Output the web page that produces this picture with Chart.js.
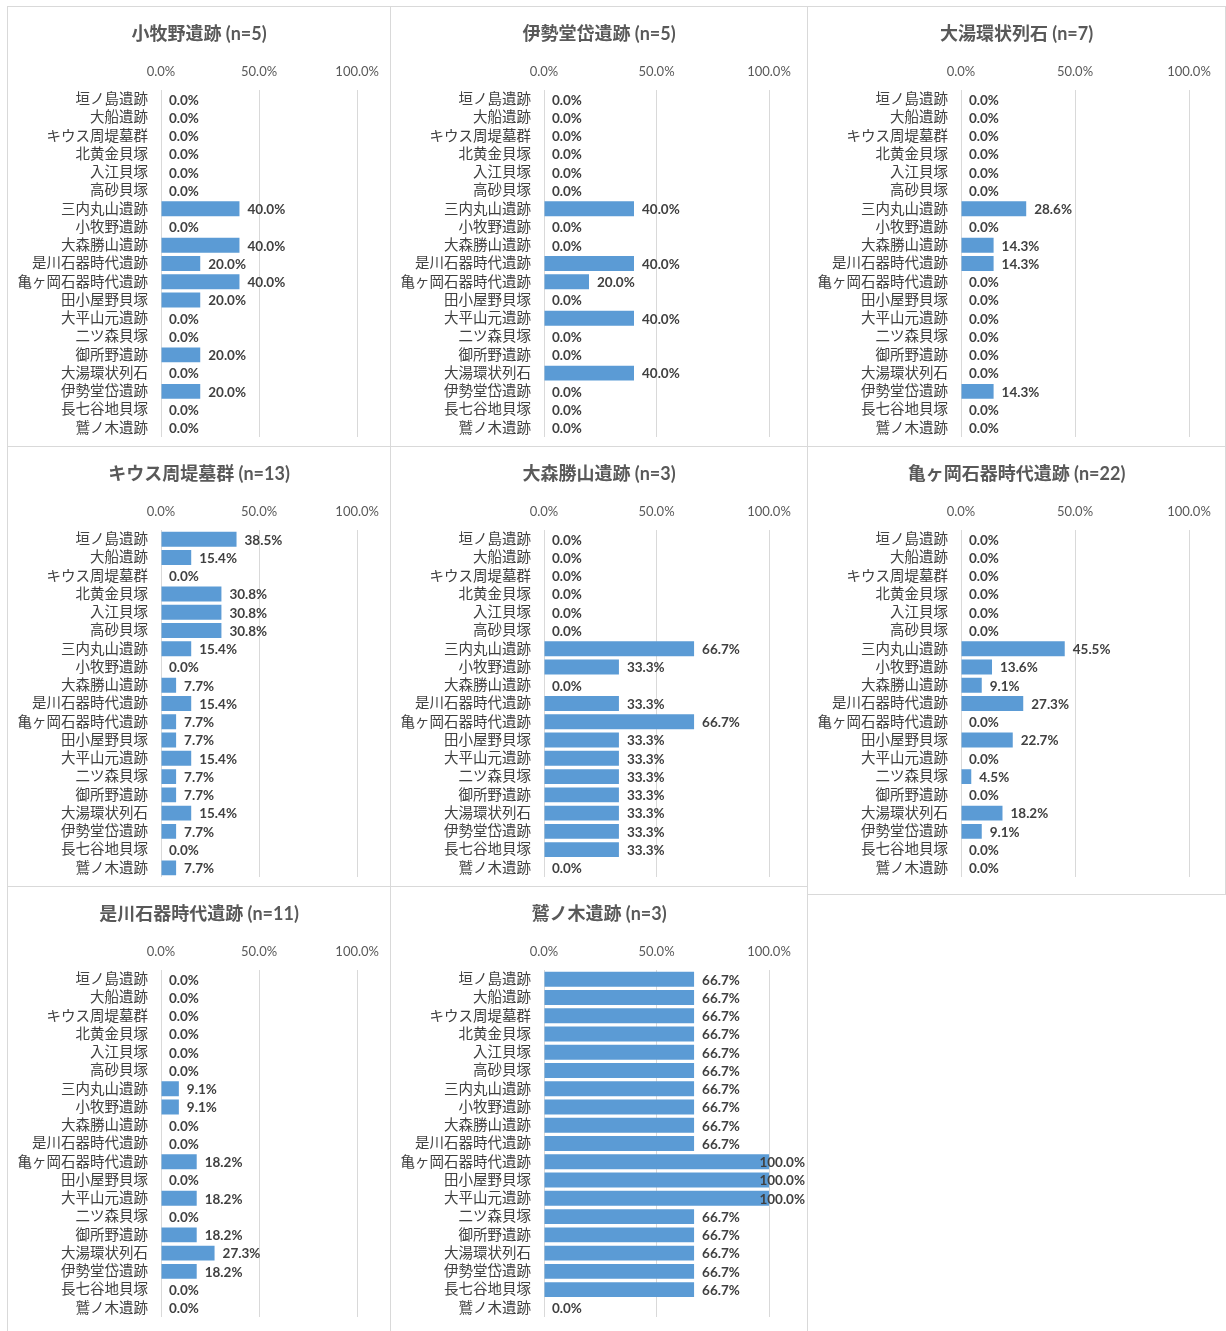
<!DOCTYPE html>
<html>
<head>
<meta charset="utf-8">
<script src="https://cdn.jsdelivr.net/npm/chart.js@4.4.1/dist/chart.umd.min.js"></script>
<style>
  body { margin: 0; background: #fff; width: 1226px; height: 1331px; overflow: hidden; position: relative; }
  .panel { position: absolute; border: 1px solid #d9d9d9; box-sizing: border-box; background: #fff; }
  .panel canvas { position: absolute; left: 0; top: 0; }
</style>
</head>
<body>
<div id="wrap"></div>
<script>
// categories shared by every panel
const sites = ['垣ノ島遺跡', '大船遺跡', 'キウス周堤墓群', '北黄金貝塚', '入江貝塚', '高砂貝塚',
  '三内丸山遺跡', '小牧野遺跡', '大森勝山遺跡', '是川石器時代遺跡', '亀ヶ岡石器時代遺跡', '田小屋野貝塚',
  '大平山元遺跡', '二ツ森貝塚', '御所野遺跡', '大湯環状列石', '伊勢堂岱遺跡', '長七谷地貝塚', '鷲ノ木遺跡'];

const xTicks = [0, 50, 100];

const panelTitles = ['小牧野遺跡 (n=5)', '伊勢堂岱遺跡 (n=5)', '大湯環状列石 (n=7)',
  'キウス周堤墓群 (n=13)', '大森勝山遺跡 (n=3)', '亀ヶ岡石器時代遺跡 (n=22)',
  '是川石器時代遺跡 (n=11)', '鷲ノ木遺跡 (n=3)'];

// percentages, same order as sites
const komakino  = [0, 0, 0, 0, 0, 0, 40, 0, 40, 20, 40, 20, 0, 0, 20, 0, 20, 0, 0];
const isedotai  = [0, 0, 0, 0, 0, 0, 40, 0, 0, 40, 20, 0, 40, 0, 0, 40, 0, 0, 0];
const oyu       = [0, 0, 0, 0, 0, 0, 28.6, 0, 14.3, 14.3, 0, 0, 0, 0, 0, 0, 14.3, 0, 0];
const kiusu     = [38.5, 15.4, 0, 30.8, 30.8, 30.8, 15.4, 0, 7.7, 15.4, 7.7, 7.7, 15.4, 7.7, 7.7, 15.4, 7.7, 0, 7.7];
const omoriKatsuyama = [0, 0, 0, 0, 0, 0, 66.7, 33.3, 0, 33.3, 66.7, 33.3, 33.3, 33.3, 33.3, 33.3, 33.3, 33.3, 0];
const kamegaoka = [0, 0, 0, 0, 0, 0, 45.5, 13.6, 9.1, 27.3, 0, 22.7, 0, 4.5, 0, 18.2, 9.1, 0, 0];
const korekawa  = [0, 0, 0, 0, 0, 0, 9.1, 9.1, 0, 0, 18.2, 0, 18.2, 0, 18.2, 27.3, 18.2, 0, 0];
const washinoki = [66.7, 66.7, 66.7, 66.7, 66.7, 66.7, 66.7, 66.7, 66.7, 66.7, 100, 100, 100, 66.7, 66.7, 66.7, 66.7, 66.7, 0];

const panelValues = [komakino, isedotai, oyu, kiusu, omoriKatsuyama, kamegaoka, korekawa, washinoki];

// page layout of the boxes: x, y, w, h, right padding
const boxes = [
  [7, 6, 384, 441, 31], [390, 6, 418, 441, 38], [807, 6, 419, 441, 36],
  [7, 446, 384, 441, 31], [390, 446, 418, 441, 38], [807, 446, 419, 449, 36],
  [7, 886, 384, 450, 31], [390, 886, 418, 450, 38]
];

const FONT = "Lato, 'Noto Sans CJK JP', sans-serif";
const CANVAS_H = 439;

// value labels at the bar ends, kept inside the canvas
const barLabels = {
  id: 'barLabels',
  afterDatasetsDraw(chart) {
    const ctx = chart.ctx;
    const meta = chart.getDatasetMeta(0);
    const vals = chart.data.datasets[0].data;
    ctx.save();
    ctx.font = 'bold 13.5px ' + FONT;
    ctx.fillStyle = '#404040';
    ctx.textAlign = 'left';
    ctx.textBaseline = 'middle';
    meta.data.forEach((bar, i) => {
      const txt = vals[i].toFixed(1) + '%';
      const w = ctx.measureText(txt).width;
      let x = bar.x + 8;
      if (x + w > chart.width - 2) x = chart.width - 2 - w;
      ctx.fillText(txt, x, bar.y + 1);
    });
    ctx.restore();
  }
};

// title centred on the whole box (the built-in title would follow the right padding)
const boxTitle = {
  id: 'boxTitle',
  afterDraw(chart, args, opts) {
    const ctx = chart.ctx;
    ctx.save();
    ctx.font = 'bold 18px ' + FONT;
    ctx.fillStyle = '#595959';
    ctx.textAlign = 'center';
    ctx.textBaseline = 'middle';
    ctx.fillText(opts.text, chart.width / 2, 27);
    ctx.restore();
  }
};

const wrap = document.getElementById('wrap');

boxes.forEach((b, i) => {
  const div = document.createElement('div');
  div.className = 'panel';
  div.style.left = b[0] + 'px';
  div.style.top = b[1] + 'px';
  div.style.width = b[2] + 'px';
  div.style.height = b[3] + 'px';
  const cv = document.createElement('canvas');
  cv.width = b[2] - 2;
  cv.height = CANVAS_H;
  cv.style.width = (b[2] - 2) + 'px';
  cv.style.height = CANVAS_H + 'px';
  div.appendChild(cv);
  wrap.appendChild(div);

  new Chart(cv.getContext('2d'), {
    type: 'bar',
    data: {
      labels: sites,
      datasets: [{
        data: panelValues[i],
        backgroundColor: '#5b9bd5',
        barPercentage: 0.82,
        categoryPercentage: 1
      }]
    },
    options: {
      indexAxis: 'y',
      responsive: false,
      animation: false,
      layout: { padding: { left: 0, right: b[4], top: 45.6, bottom: 9 } },
      plugins: {
        legend: { display: false },
        tooltip: { enabled: false },
        title: { display: false },
        boxTitle: { text: panelTitles[i] }
      },
      scales: {
        x: {
          position: 'top',
          min: 0,
          max: 100,
          afterBuildTicks: (scale) => { scale.ticks = xTicks.map(v => ({ value: v })); },
          ticks: {
            color: '#595959',
            font: { family: FONT, size: 13 },
            padding: 11,
            callback: (v) => Number(v).toFixed(1) + '%'
          },
          grid: { color: '#d9d9d9', drawTicks: false },
          border: { display: false }
        },
        y: {
          afterFit: (scale) => { scale.width = 153; },
          ticks: {
            color: '#404040',
            font: { family: FONT, size: 14.5 },
            padding: 0,
            autoSkip: false
          },
          // tick marks are not drawn (grid hidden) but their length spaces the labels
          grid: { display: false, drawTicks: true, tickLength: 13 },
          border: { display: false }
        }
      }
    },
    plugins: [barLabels, boxTitle]
  });
});
</script>
</body>
</html>
